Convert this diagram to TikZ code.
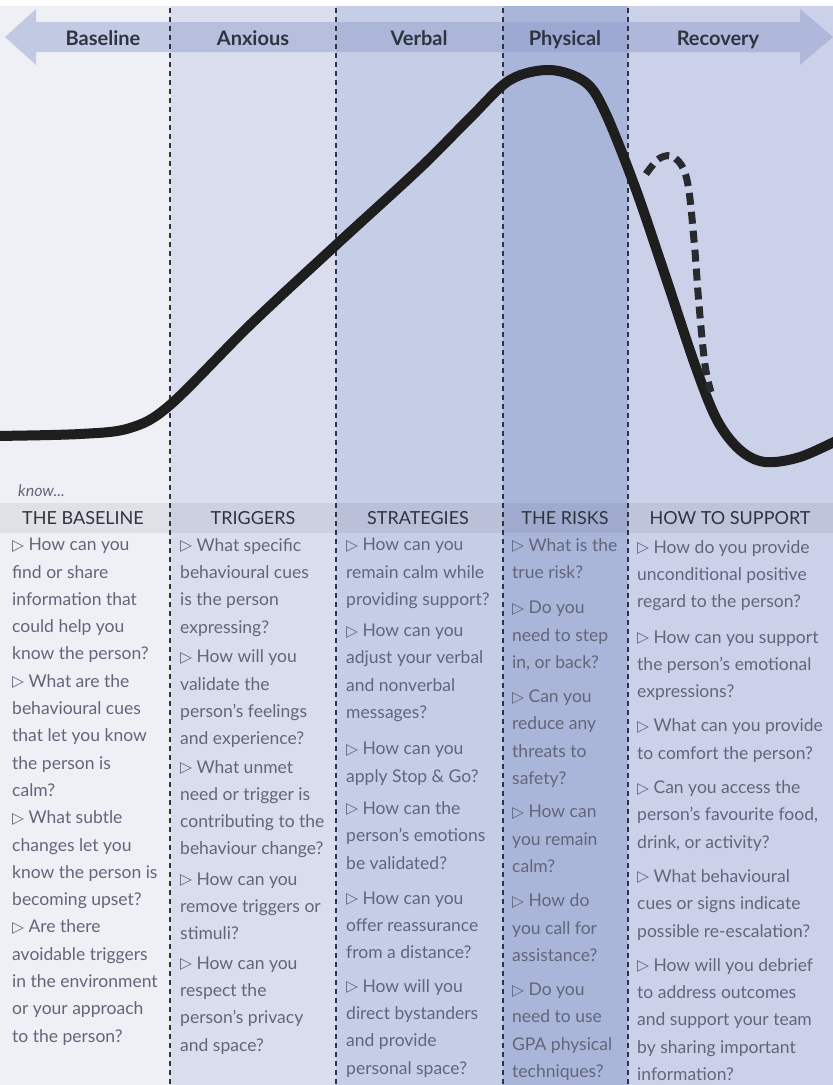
\documentclass[tikz,border=0pt]{standalone}
\usepackage{fontspec}
\setmainfont{Lato}
\newfontfamily\symfont{DejaVu Sans}
\usetikzlibrary{}

\definecolor{colbase}{HTML}{EEF0F6}
\definecolor{colanx}{HTML}{D9DDEE}
\definecolor{colverb}{HTML}{C6CDE6}
\definecolor{colphys}{HTML}{AAB5DA}
\definecolor{colrec}{HTML}{CBD1E9}
\definecolor{bandblue}{HTML}{8E9ACB}
\definecolor{headink}{HTML}{2E3440}
\definecolor{bodyink}{HTML}{62667A}
\definecolor{curveink}{HTML}{1E1E1E}

\newcommand\tri{\raisebox{0.5pt}{\symfont\fontsize{15.5}{15.5}\selectfont ▷}\ }

\tikzset{
  phase/.style={font=\bfseries\fontsize{20}{20}\selectfont, text=headink, anchor=base},
  colhead/.style={font=\fontsize{18}{18}\selectfont, text=headink, anchor=base},
  question/.style={anchor=north west, align=left, inner sep=0pt, text=bodyink,
    font=\fontsize{17.5}{27.3}\selectfont},
  divider/.style={draw=headink, line width=1.6pt, dash pattern=on 5pt off 4pt},
  curve/.style={draw=curveink, line width=10pt, line cap=round},
  relapse/.style={draw=curveink!90!bandblue, line width=7pt, dash pattern=on 12pt off 7pt}
}

\begin{document}
\begin{tikzpicture}[x=1pt,y=-1pt]
\useasboundingbox (0,0) rectangle (833,1085);

% column backgrounds
\fill[white] (0,0) rectangle (833,1085);
\fill[colbase] (0,6) rectangle (170,1085);
\fill[colanx]  (170,6) rectangle (336,1085);
\fill[colverb] (336,6) rectangle (503,1085);
\fill[colphys] (503,6) rectangle (628,1085);
\fill[colrec]  (628,6) rectangle (833,1085);

% double-headed phase arrow
\fill[bandblue, opacity=0.45]
  (5,37) -- (36,9) -- (36,22) -- (800,22) -- (800,9) -- (833,37)
  -- (800,65) -- (800,52) -- (36,52) -- (36,65) -- cycle;

% band behind the column headings
\fill[black, opacity=0.06] (0,503) rectangle (833,533);

% column dividers
\foreach \x/\n in {170/a,336/b,503/c,628/d}{
  \coordinate (top\n) at (\x,8);
  \coordinate (bot\n) at (\x,1085);
  \draw[divider] (top\n) -- (bot\n);
}

% phase names
\node[phase] (pBase) at (103,45) {Baseline};
\node[phase] (pAnx)  at (253,45) {Anxious};
\node[phase] (pVerb) at (419,45) {Verbal};
\node[phase] (pPhys) at (565,45) {Physical};
\node[phase] (pRec)  at (718,45) {Recovery};

% escalation curve
\draw[curve] plot[smooth, tension=0.55] coordinates {
  (-6,436) (80,434) (130,428) (170,405) (250,325) (336,245) (420,168)
  (470,118) (510,80) (550,70) (585,82) (605,112) (635,187) (665,275)
  (695,365) (717,420) (740,450) (765,462) (800,457) (840,439)};

% possible re-escalation
\draw[relapse] plot[smooth, tension=0.6] coordinates {
  (646,174) (660,158) (675,158) (687,180) (694,240) (699,305) (705,365) (711,392)};

% column headings
\node[anchor=base west, inner sep=0pt, text=bodyink,
  font=\itshape\fontsize{16}{16}\selectfont] (know) at (18,496) {know...};
\node[colhead] (hBase) at (83,524)  {THE BASELINE};
\node[colhead] (hAnx)  at (253,524) {TRIGGERS};
\node[colhead] (hVerb) at (418,524) {STRATEGIES};
\node[colhead] (hPhys) at (565,524) {THE RISKS};
\node[colhead] (hRec)  at (730,524) {HOW TO SUPPORT};

% questions
\node[question] (qBase) at (12,538) {%
\tri How can you\\ find or share\\ information that\\ could help you\\ know the person?\\
\tri What are the\\ behavioural cues\\ that let you know\\ the person is\\ calm?\\
\tri What subtle\\ changes let you\\ know the person is\\ becoming upset?\\
\tri Are there\\ avoidable triggers\\ in the environment\\ or your approach\\ to the person?};

\node[question] (qAnx) at (180,538) {%
\tri What specific\\ behavioural cues\\ is the person\\ expressing?\\[2.5pt]
\tri How will you\\ validate the\\ person’s feelings\\ and experience?\\[1pt]
\tri What unmet\\ need or trigger is\\ contributing to the\\ behaviour change?\\[3pt]
\tri How can you\\ remove triggers or\\ stimuli?\\[2pt]
\tri How can you\\ respect the\\ person’s privacy\\ and space?};

\node[question] (qVerb) at (346,538) {%
\tri How can you\\ remain calm while\\ providing support?\\[4pt]
\tri How can you\\ adjust your verbal\\ and nonverbal\\ messages?\\[9pt]
\tri How can you\\ apply Stop \& Go?\\[5pt]
\tri How can the\\ person’s emotions\\ be validated?\\[8pt]
\tri How can you\\ offer reassurance\\ from a distance?\\[6pt]
\tri How will you\\ direct bystanders\\ and provide\\ personal space?};

\node[question] (qPhys) at (512,538) {%
\tri What is the\\ true risk?\\[8pt]
\tri Do you\\ need to step\\ in, or back?\\[7pt]
\tri Can you\\ reduce any\\ threats to\\ safety?\\[6pt]
\tri How can\\ you remain\\ calm?\\[7pt]
\tri How do\\ you call for\\ assistance?\\[7pt]
\tri Do you\\ need to use\\ GPA physical\\ techniques?};

\node[question] (qRec) at (637,540) {%
\tri How do you provide\\ unconditional positive\\ regard to the person?\\[8pt]
\tri How can you support\\ the person’s emotional\\ expressions?\\[7pt]
\tri What can you provide\\ to comfort the person?\\[7pt]
\tri Can you access the\\ person’s favourite food,\\ drink, or activity?\\[7pt]
\tri What behavioural\\ cues or signs indicate\\ possible re-escalation?\\[7pt]
\tri How will you debrief\\ to address outcomes\\ and support your team\\ by sharing important\\ information?};
\end{tikzpicture}
\end{document}
